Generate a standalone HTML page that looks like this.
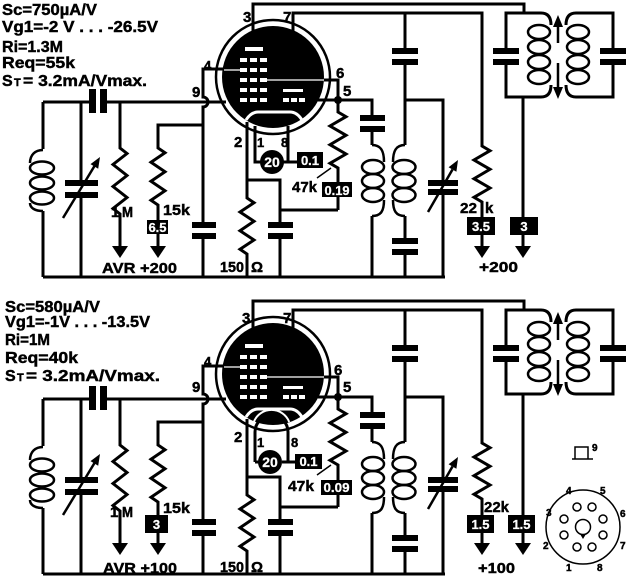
<!DOCTYPE html>
<html><head><meta charset="utf-8"><style>
html,body{margin:0;padding:0;background:#fff;}
svg{display:block;}
text{font-family:"Liberation Sans",sans-serif;font-weight:bold;fill:#000;stroke:#000;stroke-width:0.45;}
.w{fill:#fff;stroke:#fff;stroke-width:0.3;}
</style></head><body>
<svg width="640" height="580" viewBox="0 0 640 580" xmlns="http://www.w3.org/2000/svg">
<defs>
<g id="ckt">
 <g fill="none" stroke="#000" stroke-width="3">
  <!-- ground and grid line -->
  <path d="M43,277 H445"/>
  <path d="M43,102 H89 M107,102 H226"/>
  <!-- left LC -->
  <path d="M43,102 V149 M43,211 V277"/>
  <path d="M43,150 C35,150 30,155 30,163" stroke-width="2.5"/>
  <path d="M30,203 C30,208 35,211 43,211" stroke-width="2.5"/>
  <ellipse cx="42" cy="168" rx="12" ry="6.5" stroke-width="2.5"/>
  <ellipse cx="42" cy="183" rx="12" ry="6.5" stroke-width="2.5"/>
  <ellipse cx="42" cy="198" rx="12" ry="6.5" stroke-width="2.5"/>
  <!-- variable cap left -->
  <path d="M81,102 V180 M81,198 V277"/>
  <path d="M63,218 L94.5,166" stroke-width="2.5"/>
  <!-- 1M -->
  <path d="M120,102 V148 L127,153.5 L113,164.5 L127,175.5 L113,186.5 L127,197.5 L113,208.5 L120,214 V247"/>
  <!-- 15k -->
  <path d="M203,125 H158 V148 L165,152.75 L151,162.25 L165,171.75 L151,181.25 L165,190.75 L151,200.25 L158,205 V247"/>
  <!-- pin4 / screen cap -->
  <path d="M226,69 H203 V97 A5,5 0 0 1 203,107 V222 M203,239 V277"/>
  <!-- cathode -->
  <path d="M247,122 V198 L254,202.7 L240,212 L254,221.3 L240,230.7 L254,240 L240,249.3 L247,254 V277"/>
  <path d="M247,180 H280 V222 M280,239 V277"/>
  <path d="M280,210 H338"/>
  <!-- 47k -->
  <path d="M338,100 V112 L346,116.7 L330,126 L346,135.3 L330,144.7 L346,154 L330,163.3 L338,168 V210"/>
  <path d="M317,178 L331,168" stroke-width="1.5"/>
  <!-- pin 6 / 5 -->
  <path d="M324,80 H338 V100 M318,100 H372 V115 M372,132 V145"/>
  <!-- pin 3 and 7 -->
  <path d="M253,31 V4 H524 V13"/>
  <path d="M293,31 V13 H482 V146 L490,150.7 L474,160 L490,169.3 L474,178.7 L490,188 L474,197.3 L482,202 V247"/>
  <!-- IF cap x405 -->
  <path d="M405,13 V48 M405,65 V145 M405,216 V238 M405,255 V277"/>
  <path d="M405,100 H443 V180 M443,195 V277"/>
  <path d="M428,212 L452.5,169.5" stroke-width="2.5"/>
  <!-- left IF coil -->
  <path d="M372,216 V277"/>
  <path d="M372,145 C381,145 384,151 384,162" stroke-width="2.5"/>
  <path d="M384,200 C384,211 381,216 372,216" stroke-width="2.5"/>
  <ellipse cx="373" cy="167" rx="11" ry="7" stroke-width="2.5"/>
  <ellipse cx="373" cy="181" rx="11" ry="7" stroke-width="2.5"/>
  <ellipse cx="373" cy="195" rx="11" ry="7" stroke-width="2.5"/>
  <!-- right IF coil -->
  <path d="M405,145 C396,145 393,151 393,162" stroke-width="2.5"/>
  <path d="M393,200 C393,211 396,216 405,216" stroke-width="2.5"/>
  <ellipse cx="404" cy="167" rx="11.5" ry="7" stroke-width="2.5"/>
  <ellipse cx="404" cy="181" rx="11.5" ry="7" stroke-width="2.5"/>
  <ellipse cx="404" cy="195" rx="11.5" ry="7" stroke-width="2.5"/>
  <!-- transformer primary -->
  <path d="M551,25 Q551,13 541,13 H506 V48 M506,65 V97 H541 Q551,97 551,85"/>
  <ellipse cx="539" cy="32" rx="11" ry="7" stroke-width="2.5"/>
  <ellipse cx="539" cy="47" rx="11" ry="7" stroke-width="2.5"/>
  <ellipse cx="539" cy="62" rx="11" ry="7" stroke-width="2.5"/>
  <ellipse cx="539" cy="77" rx="11" ry="7" stroke-width="2.5"/>
  <!-- transformer secondary -->
  <path d="M566,25 Q566,13 576,13 H613 V48 M613,65 V97 H576 Q566,97 566,85"/>
  <ellipse cx="578" cy="32" rx="11" ry="7" stroke-width="2.5"/>
  <ellipse cx="578" cy="47" rx="11" ry="7" stroke-width="2.5"/>
  <ellipse cx="578" cy="62" rx="11" ry="7" stroke-width="2.5"/>
  <ellipse cx="578" cy="77" rx="11" ry="7" stroke-width="2.5"/>
  <path d="M558,27 V43 M558,63 V88" stroke-width="2.5"/>
  <path d="M523,97 V247"/>
 </g>
 <g fill="#000">
  <!-- coupling cap -->
  <rect x="89" y="89" width="7" height="24"/>
  <rect x="100" y="89" width="7" height="24"/>
  <!-- var cap left -->
  <rect x="65" y="180" width="33" height="6"/>
  <rect x="65" y="192" width="33" height="6"/>
  <polygon points="100,157 98.2,168.7 90.5,164.1"/>
  <!-- arrows -->
  <polygon points="112,246 128,246 120,258"/>
  <polygon points="150,246 166,246 158,258"/>
  <polygon points="474,246 490,246 482,258"/>
  <polygon points="515,246 531,246 523,258"/>
  <!-- screen cap -->
  <rect x="192" y="222" width="24" height="6"/>
  <rect x="192" y="233" width="24" height="6"/>
  <!-- cathode cap -->
  <rect x="268" y="222" width="25" height="6"/>
  <rect x="268" y="233" width="25" height="6"/>
  <!-- node -->
  <circle cx="338" cy="100" r="4"/>
  <!-- IF caps -->
  <rect x="360" y="115" width="25" height="6"/>
  <rect x="360" y="126" width="25" height="6"/>
  <rect x="392" y="48" width="26" height="6"/>
  <rect x="392" y="59" width="26" height="6"/>
  <rect x="392" y="238" width="26" height="6"/>
  <rect x="392" y="249" width="26" height="6"/>
  <rect x="428" y="180" width="30" height="6"/>
  <rect x="428" y="189" width="30" height="6"/>
  <polygon points="458,160 456.4,171.8 448.6,167.3"/>
  <!-- transformer caps -->
  <rect x="493" y="48" width="26" height="6"/>
  <rect x="493" y="59" width="26" height="6"/>
  <rect x="600" y="48" width="26" height="6"/>
  <rect x="600" y="59" width="26" height="6"/>
  <polygon points="558,15 553,27 563,27"/>
  <polygon points="553,87 563,87 558,99"/>
 </g>
 <!-- tube -->
 <circle cx="273" cy="77" r="57" fill="none" stroke="#000" stroke-width="2.5"/>
 <circle cx="273" cy="77" r="51" fill="#000"/>
 <g fill="#fff">
  <rect x="245" y="47" width="18" height="4"/>
  <rect x="240" y="58" width="7" height="4"/><rect x="250" y="58" width="7" height="4"/><rect x="260" y="58" width="7" height="4"/>
  <rect x="240" y="68" width="7" height="4"/><rect x="250" y="68" width="7" height="4"/><rect x="260" y="68" width="7" height="4"/>
  <rect x="240" y="78" width="7" height="4"/><rect x="250" y="78" width="7" height="4"/><rect x="260" y="78" width="7" height="4"/>
  <rect x="240" y="88" width="7" height="4"/><rect x="250" y="88" width="7" height="4"/><rect x="260" y="88" width="7" height="4"/>
  <rect x="240" y="98" width="7" height="4"/><rect x="250" y="98" width="7" height="4"/><rect x="260" y="98" width="7" height="4"/>
  <rect x="283" y="89" width="20" height="3"/>
  <rect x="283" y="98" width="6" height="4"/><rect x="291" y="98" width="6" height="4"/><rect x="299" y="98" width="6" height="4"/>
 </g>
 <path d="M246,120 Q251,112 258,112 H290 Q297,112 302,120" stroke="#fff" stroke-width="3" fill="none"/>
 <path d="M224,70 H240 M267,80 H324" stroke="#fff" stroke-width="1.2" fill="none"/>
</g>
</defs>

<use href="#ckt"/>
<use href="#ckt" transform="translate(0,297)"/>

<!-- heater top -->
<g fill="none" stroke="#000" stroke-width="3">
 <path d="M255,126 V162 H262 M288,126 V162 M282,162 H297"/>
</g>
<circle cx="272" cy="162" r="12" fill="#000"/>
<!-- heater bottom -->
<path d="M253.8,422 A19,19 0 0 1 289.2,422" stroke="#fff" stroke-width="2" fill="none"/>
<g fill="none" stroke="#000" stroke-width="3">
 <path d="M255,462 V432 A16.5,16.5 0 0 1 288,432 V462 M255,462 H260 M282,462 H296"/>
</g>
<circle cx="270" cy="462" r="12" fill="#000"/>

<!-- boxes -->
<g fill="#000">
 <rect x="147" y="220" width="21" height="14"/>
 <rect x="297" y="152" width="26" height="16"/>
 <rect x="322" y="182" width="30" height="15"/>
 <rect x="467" y="217" width="28" height="18"/>
 <rect x="510" y="217" width="28" height="18"/>
 <rect x="145" y="515" width="23" height="18"/>
 <rect x="295" y="454" width="27" height="15"/>
 <rect x="321" y="480" width="31" height="15"/>
 <rect x="467" y="515" width="27" height="18"/>
 <rect x="508" y="515" width="27" height="18"/>
</g>
<g font-size="13" text-anchor="middle">
 <text class="w" x="157.5" y="232">6.5</text>
 <text class="w" x="310" y="165">0.1</text>
 <text class="w" x="337" y="195" textLength="25" lengthAdjust="spacingAndGlyphs">0.19</text>
 <text class="w" x="481" y="231">3.5</text>
 <text class="w" x="524" y="231">3</text>
 <text class="w" x="156.5" y="529">3</text>
 <text class="w" x="308.5" y="466">0.1</text>
 <text class="w" x="336.5" y="492" textLength="26" lengthAdjust="spacingAndGlyphs">0.09</text>
 <text class="w" x="480.5" y="529">1.5</text>
 <text class="w" x="521.5" y="529">1.5</text>
 <text class="w" x="272" y="167" font-size="14">20</text>
 <text class="w" x="270" y="467" font-size="14">20</text>
</g>

<!-- header texts top -->
<g font-size="16">
 <text x="2" y="15" textLength="95" lengthAdjust="spacingAndGlyphs">Sc=750µA/V</text>
 <text x="2" y="32" textLength="156" lengthAdjust="spacingAndGlyphs">Vg1=-2 V . . . -26.5V</text>
 <text x="2" y="52" textLength="61" lengthAdjust="spacingAndGlyphs">Ri=1.3M</text>
 <text x="2" y="68" textLength="73" lengthAdjust="spacingAndGlyphs">Req=55k</text>
 <text x="2" y="86">S</text>
 <text x="14" y="86" font-size="11">T</text>
 <text x="23" y="86" textLength="124" lengthAdjust="spacingAndGlyphs">= 3.2mA/Vmax.</text>
</g>
<!-- header texts bottom -->
<g font-size="16">
 <text x="5" y="312" textLength="95" lengthAdjust="spacingAndGlyphs">Sc=580µA/V</text>
 <text x="5" y="327" textLength="145" lengthAdjust="spacingAndGlyphs">Vg1=-1V . . . -13.5V</text>
 <text x="5" y="345" textLength="45" lengthAdjust="spacingAndGlyphs">Ri=1M</text>
 <text x="5" y="363" textLength="73" lengthAdjust="spacingAndGlyphs">Req=40k</text>
 <text x="5" y="381">S</text>
 <text x="17" y="381" font-size="11">T</text>
 <text x="26" y="381" textLength="134" lengthAdjust="spacingAndGlyphs">= 3.2mA/Vmax.</text>
</g>

<!-- pin labels top -->
<g font-size="15">
 <text x="243" y="22">3</text>
 <text x="283" y="22">7</text>
 <text x="204" y="70" font-size="13">4</text>
 <text x="192" y="97">9</text>
 <text x="336" y="78">6</text>
 <text x="343" y="96">5</text>
 <text x="234" y="147">2</text>
 <text x="257" y="147" font-size="13">1</text>
 <text x="281" y="147" font-size="13">8</text>
</g>
<!-- pin labels bottom -->
<g font-size="15">
 <text x="242" y="323">3</text>
 <text x="283" y="323">7</text>
 <text x="204" y="366" font-size="13">4</text>
 <text x="192" y="392">9</text>
 <text x="334" y="375">6</text>
 <text x="343" y="392">5</text>
 <text x="234" y="442">2</text>
 <text x="257" y="447" font-size="13">1</text>
 <text x="291" y="447" font-size="13">8</text>
</g>

<!-- component labels top -->
<g font-size="15">
 <text x="292" y="192" textLength="25" lengthAdjust="spacingAndGlyphs">47k</text>
 <text x="163" y="215" textLength="27" lengthAdjust="spacingAndGlyphs">15k</text>
 <text x="111" y="217">1</text>
 <text x="122" y="217" textLength="11" lengthAdjust="spacingAndGlyphs">M</text>
 <text x="102" y="273" textLength="75" lengthAdjust="spacingAndGlyphs">AVR +200</text>
 <text x="220" y="272" textLength="24" lengthAdjust="spacingAndGlyphs">150</text>
 <text x="251" y="272">Ω</text>
 <text x="460" y="213" textLength="17" lengthAdjust="spacingAndGlyphs">22</text>
 <text x="485" y="213">k</text>
 <text x="479" y="272" textLength="39" lengthAdjust="spacingAndGlyphs">+200</text>
</g>
<!-- component labels bottom -->
<g font-size="15">
 <text x="288" y="491" textLength="26" lengthAdjust="spacingAndGlyphs">47k</text>
 <text x="163" y="513" textLength="27" lengthAdjust="spacingAndGlyphs">15k</text>
 <text x="110" y="517">1</text>
 <text x="122" y="517" textLength="11" lengthAdjust="spacingAndGlyphs">M</text>
 <text x="103" y="573" textLength="74" lengthAdjust="spacingAndGlyphs">AVR +100</text>
 <text x="220" y="572" textLength="24" lengthAdjust="spacingAndGlyphs">150</text>
 <text x="251" y="572">Ω</text>
 <text x="484" y="512" textLength="25" lengthAdjust="spacingAndGlyphs">22k</text>
 <text x="478" y="573" textLength="37" lengthAdjust="spacingAndGlyphs">+100</text>
</g>

<!-- pinout -->
<g fill="none" stroke="#000" stroke-width="1.5">
 <path d="M575,459 V447 H588 V459 M572,459 H593"/>
 <circle cx="583" cy="527" r="37"/>
 <circle cx="577" cy="507" r="4"/>
 <circle cx="592" cy="507" r="4"/>
 <circle cx="564" cy="519" r="4"/>
 <circle cx="603" cy="519" r="4"/>
 <circle cx="564" cy="535" r="4"/>
 <circle cx="603" cy="535" r="4"/>
 <circle cx="577" cy="547" r="4"/>
 <circle cx="592" cy="547" r="4"/>
 <circle cx="583" cy="527" r="7.5"/>
</g>
<polygon points="580,534 586,534 583,539" fill="#000"/>
<g font-size="10">
 <text x="592" y="451">9</text>
 <text x="566" y="494">4</text>
 <text x="600" y="494">5</text>
 <text x="546" y="516">3</text>
 <text x="620" y="517">6</text>
 <text x="543" y="549">2</text>
 <text x="620" y="549">7</text>
 <text x="566" y="571">1</text>
 <text x="597" y="571">8</text>
</g>
</svg>
</body></html>
